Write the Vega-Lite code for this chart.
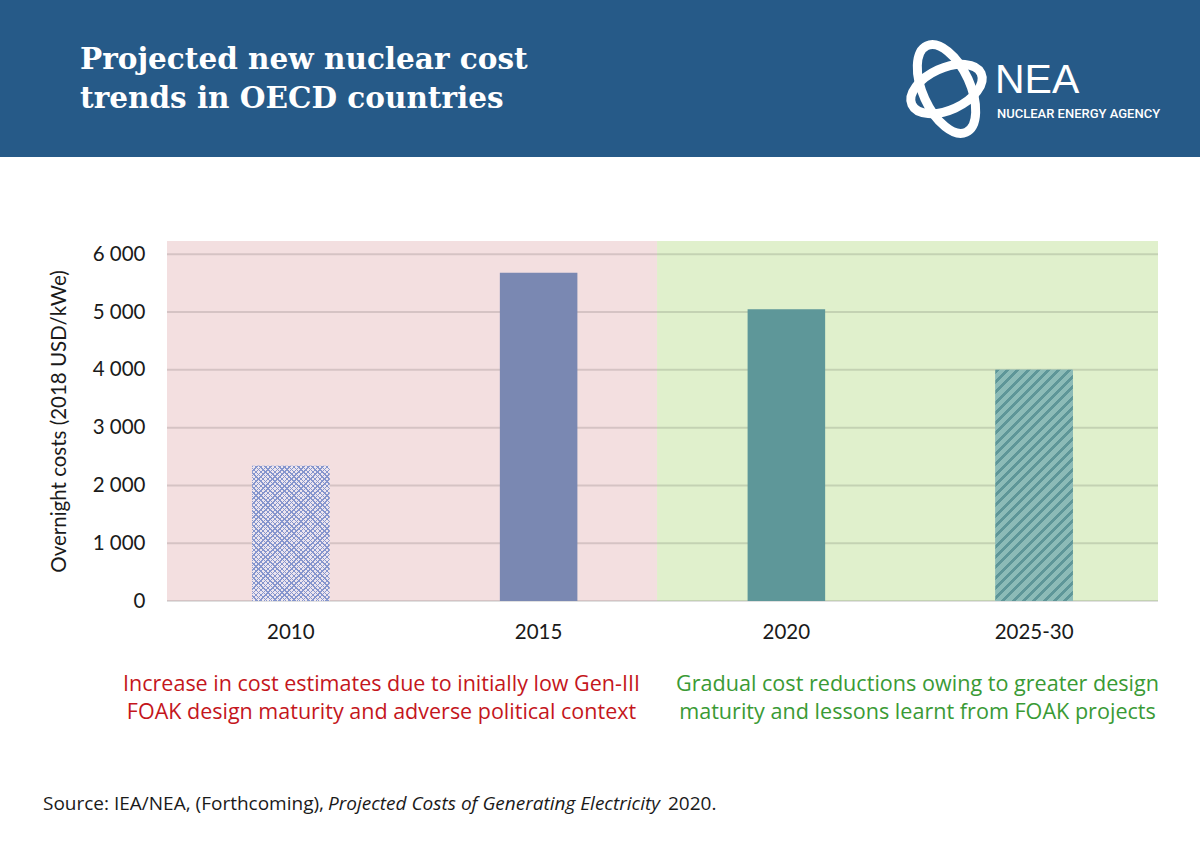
{
  "$schema": "https://vega.github.io/schema/vega-lite/v6.json",
  "width": 991,
  "height": 360,
  "autosize": "none",
  "padding": {"left": 167, "top": 241, "right": 42, "bottom": 256},
  "background": "#ffffff",
  "config": {"font": "Lato", "view": {"stroke": null}},
  "resolve": {"scale": {"x": "independent"}, "axis": {"x": "independent"}},
  "layer": [
    {
      "layer": [
        {
          "data": {"values": [{"band": "header"}]},
          "mark": {"type": "rect", "color": "#265a88"},
          "encoding": {
            "x": {"datum": -0.67407, "type": "quantitative", "scale": {"domain": [0, 4], "nice": false, "zero": false}, "axis": null},
            "x2": {"datum": 4.16953},
            "y": {"datum": 10400.6, "type": "quantitative", "scale": {"domain": [0, 6230], "nice": false}, "axis": {"title": "Overnight costs (2018 USD/kWe)", "titleFontSize": 20.5, "titleFontWeight": "normal", "titleColor": "#1a1a1a", "titlePadding": 23, "domain": false, "ticks": false, "grid": false, "values": [0, 1000, 2000, 3000, 4000, 5000, 6000], "labelExpr": "replace(format(datum.value, ','), ',', ' ')", "labelFontSize": 20.5, "labelColor": "#1a1a1a", "labelPadding": 22}},
            "y2": {"datum": 7683.7}
          }
        },
        {
          "data": {"values": [{"title": "Projected new nuclear cost\ntrends in OECD countries"}]},
          "mark": {"type": "text", "font": "DejaVu Serif", "fontWeight": "bold", "fontSize": 29.5, "color": "#ffffff", "align": "left", "baseline": "alphabetic", "lineBreak": "\n", "lineHeight": 39.5},
          "encoding": {
            "x": {"datum": -0.35116, "type": "quantitative", "scale": {"domain": [0, 4], "nice": false, "zero": false}, "axis": null},
            "y": {"datum": 9215.2, "type": "quantitative", "scale": {"domain": [0, 6230], "nice": false}},
            "text": {"field": "title", "type": "nominal"}
          }
        },
        {
          "data": {"values": [{"logo": "ring"}]},
          "mark": {"type": "point", "shape": "M -1 0 C -1 -0.2762 -0.5523 -0.5 0 -0.5 C 0.5523 -0.5 1 -0.2762 1 0 C 1 0.2762 0.5523 0.5 0 0.5 C -0.5523 0.5 -1 0.2762 -1 0 Z", "size": 9025, "angle": 65.6, "filled": false, "color": "#ffffff", "strokeWidth": 9, "opacity": 1},
          "encoding": {
            "x": {"datum": 3.14632, "type": "quantitative", "scale": {"domain": [0, 4], "nice": false, "zero": false}, "axis": null},
            "y": {"datum": 8860.5, "type": "quantitative", "scale": {"domain": [0, 6230], "nice": false}}
          }
        },
        {
          "data": {"values": [{"logo": "ring"}]},
          "mark": {"type": "point", "shape": "M -1 0 C -1 -0.3038 -0.5523 -0.55 0 -0.55 C 0.5523 -0.55 1 -0.3038 1 0 C 1 0.3038 0.5523 0.55 0 0.55 C -0.5523 0.55 -1 0.3038 -1 0 Z", "size": 5776, "angle": 335.6, "filled": false, "color": "#ffffff", "strokeWidth": 9, "opacity": 1},
          "encoding": {
            "x": {"datum": 3.14632, "type": "quantitative", "scale": {"domain": [0, 4], "nice": false, "zero": false}, "axis": null},
            "y": {"datum": 8860.5, "type": "quantitative", "scale": {"domain": [0, 6230], "nice": false}}
          }
        },
        {
          "data": {"values": [{"org": "NEA"}]},
          "mark": {"type": "text", "font": "Liberation Sans", "fontSize": 41, "color": "#ffffff", "align": "left", "baseline": "alphabetic"},
          "encoding": {
            "x": {"datum": 3.34208, "type": "quantitative", "scale": {"domain": [0, 4], "nice": false, "zero": false}, "axis": null},
            "y": {"datum": 8796.4, "type": "quantitative", "scale": {"domain": [0, 6230], "nice": false}},
            "text": {"field": "org", "type": "nominal"}
          }
        },
        {
          "data": {"values": [{"org": "NUCLEAR ENERGY AGENCY"}]},
          "mark": {"type": "text", "font": "Roboto", "fontWeight": 500, "fontSize": 13, "color": "#ffffff", "align": "left", "baseline": "alphabetic"},
          "encoding": {
            "x": {"datum": 3.35015, "type": "quantitative", "scale": {"domain": [0, 4], "nice": false, "zero": false}, "axis": null},
            "y": {"datum": 8353.4, "type": "quantitative", "scale": {"domain": [0, 6230], "nice": false}},
            "text": {"field": "org", "type": "nominal"}
          }
        },
        {
          "data": {"values": [{"phase": "Increase"}]},
          "mark": {"type": "rect", "color": "#f3dfe0"},
          "encoding": {
            "x": {"datum": 0, "type": "quantitative", "scale": {"domain": [0, 4], "nice": false, "zero": false}, "axis": null},
            "x2": {"datum": 1.978},
            "y": {"datum": 6230, "type": "quantitative", "scale": {"domain": [0, 6230], "nice": false}},
            "y2": {"datum": 0}
          }
        },
        {
          "data": {"values": [{"phase": "Reduction"}]},
          "mark": {"type": "rect", "color": "#e0f0cc"},
          "encoding": {
            "x": {"datum": 1.978, "type": "quantitative", "scale": {"domain": [0, 4], "nice": false, "zero": false}, "axis": null},
            "x2": {"datum": 4},
            "y": {"datum": 6230, "type": "quantitative", "scale": {"domain": [0, 6230], "nice": false}},
            "y2": {"datum": 0}
          }
        },
        {
          "data": {"values": [{"note": "Increase in cost estimates due to initially low Gen-III\nFOAK design maturity and adverse political context"}]},
          "mark": {"type": "text", "font": "Open Sans", "lineBreak": "\n", "fontSize": 21.5, "color": "#c4161c", "align": "center", "baseline": "alphabetic", "lineHeight": 28},
          "encoding": {
            "x": {"datum": 0.8658, "type": "quantitative", "scale": {"domain": [0, 4], "nice": false, "zero": false}, "axis": null},
            "y": {"datum": -1557, "type": "quantitative", "scale": {"domain": [0, 6230], "nice": false}},
            "text": {"field": "note", "type": "nominal"}
          }
        },
        {
          "data": {"values": [{"note": "Gradual cost reductions owing to greater design\nmaturity and lessons learnt from FOAK projects"}]},
          "mark": {"type": "text", "font": "Open Sans", "lineBreak": "\n", "fontSize": 21.6, "color": "#3a9a35", "align": "center", "baseline": "alphabetic", "lineHeight": 28},
          "encoding": {
            "x": {"datum": 3.0293, "type": "quantitative", "scale": {"domain": [0, 4], "nice": false, "zero": false}, "axis": null},
            "y": {"datum": -1557, "type": "quantitative", "scale": {"domain": [0, 6230], "nice": false}},
            "text": {"field": "note", "type": "nominal"}
          }
        },
        {
          "data": {"values": [{"s": "Source: IEA/NEA, (Forthcoming),"}]},
          "mark": {"type": "text", "font": "Open Sans", "fontSize": 19, "color": "#1a1a1a", "align": "left", "baseline": "alphabetic"},
          "encoding": {
            "x": {"datum": -0.5005, "type": "quantitative", "scale": {"domain": [0, 4], "nice": false, "zero": false}, "axis": null},
            "y": {"datum": -3617, "type": "quantitative", "scale": {"domain": [0, 6230], "nice": false}},
            "text": {"field": "s", "type": "nominal"}
          }
        },
        {
          "data": {"values": [{"s": "Projected Costs of Generating Electricity"}]},
          "mark": {"type": "text", "font": "Open Sans", "fontSize": 19, "fontStyle": "italic", "color": "#1a1a1a", "align": "left", "baseline": "alphabetic"},
          "encoding": {
            "x": {"datum": 0.6498, "type": "quantitative", "scale": {"domain": [0, 4], "nice": false, "zero": false}, "axis": null},
            "y": {"datum": -3617, "type": "quantitative", "scale": {"domain": [0, 6230], "nice": false}},
            "text": {"field": "s", "type": "nominal"}
          }
        },
        {
          "data": {"values": [{"s": "2020."}]},
          "mark": {"type": "text", "font": "Open Sans", "fontSize": 19, "color": "#1a1a1a", "align": "left", "baseline": "alphabetic"},
          "encoding": {
            "x": {"datum": 2.0222, "type": "quantitative", "scale": {"domain": [0, 4], "nice": false, "zero": false}, "axis": null},
            "y": {"datum": -3617, "type": "quantitative", "scale": {"domain": [0, 6230], "nice": false}},
            "text": {"field": "s", "type": "nominal"}
          }
        }
      ]
    },
    {
      "data": {"values": [
        {"year": "2010", "cost": 2340},
        {"year": "2015", "cost": 5680},
        {"year": "2020", "cost": 5050},
        {"year": "2025-30", "cost": 4000}
      ]},
      "layer": [
        {
          "data": {"values": [{"v": 0}, {"v": 1000}, {"v": 2000}, {"v": 3000}, {"v": 4000}, {"v": 5000}, {"v": 6000}]},
          "mark": {"type": "rule", "color": "#000000", "opacity": 0.12, "strokeWidth": 2},
          "encoding": {
            "y": {"field": "v", "type": "quantitative", "scale": {"domain": [0, 6230], "nice": false}}
          }
        },
        {
          "mark": {"type": "bar"},
          "encoding": {
            "x": {"field": "year", "type": "nominal", "scale": {"paddingInner": 0.687, "paddingOuter": 0.3435}, "axis": {"title": null, "orient": "bottom", "domain": false, "ticks": false, "grid": false, "labelAngle": 0, "labelFontSize": 20.5, "labelColor": "#1a1a1a", "labelPadding": 21}},
            "y": {"field": "cost", "type": "quantitative", "scale": {"domain": [0, 6230], "nice": false}},
            "color": {"field": "year", "type": "nominal", "scale": {"domain": ["2010", "2015", "2020", "2025-30"], "range": ["#ece5ee", "#7a88b2", "#5e9799", "#8cbbb7"]}, "legend": null}
          }
        },
        {
          "transform": [{"filter": "datum.year === '2010'"}],
          "mark": {"type": "bar", "fill": {"gradient": "linear", "x1": 0, "y1": 0, "x2": 0.6792, "y2": 1.1841, "stops": [
            {"offset": 0, "color": "#8595cd"}, {"offset": 0.0067, "color": "#8595cd"}, {"offset": 0.0067, "color": "rgba(133,149,205,0)"}, {"offset": 0.0222, "color": "rgba(133,149,205,0)"},
            {"offset": 0.0222, "color": "#8595cd"}, {"offset": 0.0289, "color": "#8595cd"}, {"offset": 0.0289, "color": "rgba(133,149,205,0)"}, {"offset": 0.0444, "color": "rgba(133,149,205,0)"},
            {"offset": 0.0444, "color": "#8595cd"}, {"offset": 0.0511, "color": "#8595cd"}, {"offset": 0.0511, "color": "rgba(133,149,205,0)"}, {"offset": 0.0667, "color": "rgba(133,149,205,0)"},
            {"offset": 0.0667, "color": "#8595cd"}, {"offset": 0.0734, "color": "#8595cd"}, {"offset": 0.0734, "color": "rgba(133,149,205,0)"}, {"offset": 0.0889, "color": "rgba(133,149,205,0)"},
            {"offset": 0.0889, "color": "#8595cd"}, {"offset": 0.0956, "color": "#8595cd"}, {"offset": 0.0956, "color": "rgba(133,149,205,0)"}, {"offset": 0.1111, "color": "rgba(133,149,205,0)"},
            {"offset": 0.1111, "color": "#8595cd"}, {"offset": 0.1178, "color": "#8595cd"}, {"offset": 0.1178, "color": "rgba(133,149,205,0)"}, {"offset": 0.1333, "color": "rgba(133,149,205,0)"},
            {"offset": 0.1333, "color": "#8595cd"}, {"offset": 0.14, "color": "#8595cd"}, {"offset": 0.14, "color": "rgba(133,149,205,0)"}, {"offset": 0.1556, "color": "rgba(133,149,205,0)"},
            {"offset": 0.1556, "color": "#8595cd"}, {"offset": 0.1623, "color": "#8595cd"}, {"offset": 0.1623, "color": "rgba(133,149,205,0)"}, {"offset": 0.1778, "color": "rgba(133,149,205,0)"},
            {"offset": 0.1778, "color": "#8595cd"}, {"offset": 0.1845, "color": "#8595cd"}, {"offset": 0.1845, "color": "rgba(133,149,205,0)"}, {"offset": 0.2, "color": "rgba(133,149,205,0)"},
            {"offset": 0.2, "color": "#8595cd"}, {"offset": 0.2067, "color": "#8595cd"}, {"offset": 0.2067, "color": "rgba(133,149,205,0)"}, {"offset": 0.2222, "color": "rgba(133,149,205,0)"},
            {"offset": 0.2222, "color": "#8595cd"}, {"offset": 0.2289, "color": "#8595cd"}, {"offset": 0.2289, "color": "rgba(133,149,205,0)"}, {"offset": 0.2444, "color": "rgba(133,149,205,0)"},
            {"offset": 0.2444, "color": "#8595cd"}, {"offset": 0.2511, "color": "#8595cd"}, {"offset": 0.2511, "color": "rgba(133,149,205,0)"}, {"offset": 0.2667, "color": "rgba(133,149,205,0)"},
            {"offset": 0.2667, "color": "#8595cd"}, {"offset": 0.2734, "color": "#8595cd"}, {"offset": 0.2734, "color": "rgba(133,149,205,0)"}, {"offset": 0.2889, "color": "rgba(133,149,205,0)"},
            {"offset": 0.2889, "color": "#8595cd"}, {"offset": 0.2956, "color": "#8595cd"}, {"offset": 0.2956, "color": "rgba(133,149,205,0)"}, {"offset": 0.3111, "color": "rgba(133,149,205,0)"},
            {"offset": 0.3111, "color": "#8595cd"}, {"offset": 0.3178, "color": "#8595cd"}, {"offset": 0.3178, "color": "rgba(133,149,205,0)"}, {"offset": 0.3333, "color": "rgba(133,149,205,0)"},
            {"offset": 0.3333, "color": "#8595cd"}, {"offset": 0.34, "color": "#8595cd"}, {"offset": 0.34, "color": "rgba(133,149,205,0)"}, {"offset": 0.3556, "color": "rgba(133,149,205,0)"},
            {"offset": 0.3556, "color": "#8595cd"}, {"offset": 0.3623, "color": "#8595cd"}, {"offset": 0.3623, "color": "rgba(133,149,205,0)"}, {"offset": 0.3778, "color": "rgba(133,149,205,0)"},
            {"offset": 0.3778, "color": "#8595cd"}, {"offset": 0.3845, "color": "#8595cd"}, {"offset": 0.3845, "color": "rgba(133,149,205,0)"}, {"offset": 0.4, "color": "rgba(133,149,205,0)"},
            {"offset": 0.4, "color": "#8595cd"}, {"offset": 0.4067, "color": "#8595cd"}, {"offset": 0.4067, "color": "rgba(133,149,205,0)"}, {"offset": 0.4222, "color": "rgba(133,149,205,0)"},
            {"offset": 0.4222, "color": "#8595cd"}, {"offset": 0.4289, "color": "#8595cd"}, {"offset": 0.4289, "color": "rgba(133,149,205,0)"}, {"offset": 0.4444, "color": "rgba(133,149,205,0)"},
            {"offset": 0.4444, "color": "#8595cd"}, {"offset": 0.4511, "color": "#8595cd"}, {"offset": 0.4511, "color": "rgba(133,149,205,0)"}, {"offset": 0.4667, "color": "rgba(133,149,205,0)"},
            {"offset": 0.4667, "color": "#8595cd"}, {"offset": 0.4734, "color": "#8595cd"}, {"offset": 0.4734, "color": "rgba(133,149,205,0)"}, {"offset": 0.4889, "color": "rgba(133,149,205,0)"},
            {"offset": 0.4889, "color": "#8595cd"}, {"offset": 0.4956, "color": "#8595cd"}, {"offset": 0.4956, "color": "rgba(133,149,205,0)"}, {"offset": 0.5111, "color": "rgba(133,149,205,0)"},
            {"offset": 0.5111, "color": "#8595cd"}, {"offset": 0.5178, "color": "#8595cd"}, {"offset": 0.5178, "color": "rgba(133,149,205,0)"}, {"offset": 0.5333, "color": "rgba(133,149,205,0)"},
            {"offset": 0.5333, "color": "#8595cd"}, {"offset": 0.54, "color": "#8595cd"}, {"offset": 0.54, "color": "rgba(133,149,205,0)"}, {"offset": 0.5556, "color": "rgba(133,149,205,0)"},
            {"offset": 0.5556, "color": "#8595cd"}, {"offset": 0.5623, "color": "#8595cd"}, {"offset": 0.5623, "color": "rgba(133,149,205,0)"}, {"offset": 0.5778, "color": "rgba(133,149,205,0)"},
            {"offset": 0.5778, "color": "#8595cd"}, {"offset": 0.5845, "color": "#8595cd"}, {"offset": 0.5845, "color": "rgba(133,149,205,0)"}, {"offset": 0.6, "color": "rgba(133,149,205,0)"},
            {"offset": 0.6, "color": "#8595cd"}, {"offset": 0.6067, "color": "#8595cd"}, {"offset": 0.6067, "color": "rgba(133,149,205,0)"}, {"offset": 0.6222, "color": "rgba(133,149,205,0)"},
            {"offset": 0.6222, "color": "#8595cd"}, {"offset": 0.6289, "color": "#8595cd"}, {"offset": 0.6289, "color": "rgba(133,149,205,0)"}, {"offset": 0.6444, "color": "rgba(133,149,205,0)"},
            {"offset": 0.6444, "color": "#8595cd"}, {"offset": 0.6511, "color": "#8595cd"}, {"offset": 0.6511, "color": "rgba(133,149,205,0)"}, {"offset": 0.6667, "color": "rgba(133,149,205,0)"},
            {"offset": 0.6667, "color": "#8595cd"}, {"offset": 0.6734, "color": "#8595cd"}, {"offset": 0.6734, "color": "rgba(133,149,205,0)"}, {"offset": 0.6889, "color": "rgba(133,149,205,0)"},
            {"offset": 0.6889, "color": "#8595cd"}, {"offset": 0.6956, "color": "#8595cd"}, {"offset": 0.6956, "color": "rgba(133,149,205,0)"}, {"offset": 0.7111, "color": "rgba(133,149,205,0)"},
            {"offset": 0.7111, "color": "#8595cd"}, {"offset": 0.7178, "color": "#8595cd"}, {"offset": 0.7178, "color": "rgba(133,149,205,0)"}, {"offset": 0.7333, "color": "rgba(133,149,205,0)"},
            {"offset": 0.7333, "color": "#8595cd"}, {"offset": 0.74, "color": "#8595cd"}, {"offset": 0.74, "color": "rgba(133,149,205,0)"}, {"offset": 0.7556, "color": "rgba(133,149,205,0)"},
            {"offset": 0.7556, "color": "#8595cd"}, {"offset": 0.7623, "color": "#8595cd"}, {"offset": 0.7623, "color": "rgba(133,149,205,0)"}, {"offset": 0.7778, "color": "rgba(133,149,205,0)"},
            {"offset": 0.7778, "color": "#8595cd"}, {"offset": 0.7845, "color": "#8595cd"}, {"offset": 0.7845, "color": "rgba(133,149,205,0)"}, {"offset": 0.8, "color": "rgba(133,149,205,0)"},
            {"offset": 0.8, "color": "#8595cd"}, {"offset": 0.8067, "color": "#8595cd"}, {"offset": 0.8067, "color": "rgba(133,149,205,0)"}, {"offset": 0.8222, "color": "rgba(133,149,205,0)"},
            {"offset": 0.8222, "color": "#8595cd"}, {"offset": 0.8289, "color": "#8595cd"}, {"offset": 0.8289, "color": "rgba(133,149,205,0)"}, {"offset": 0.8444, "color": "rgba(133,149,205,0)"},
            {"offset": 0.8444, "color": "#8595cd"}, {"offset": 0.8511, "color": "#8595cd"}, {"offset": 0.8511, "color": "rgba(133,149,205,0)"}, {"offset": 0.8667, "color": "rgba(133,149,205,0)"},
            {"offset": 0.8667, "color": "#8595cd"}, {"offset": 0.8734, "color": "#8595cd"}, {"offset": 0.8734, "color": "rgba(133,149,205,0)"}, {"offset": 0.8889, "color": "rgba(133,149,205,0)"},
            {"offset": 0.8889, "color": "#8595cd"}, {"offset": 0.8956, "color": "#8595cd"}, {"offset": 0.8956, "color": "rgba(133,149,205,0)"}, {"offset": 0.9111, "color": "rgba(133,149,205,0)"},
            {"offset": 0.9111, "color": "#8595cd"}, {"offset": 0.9178, "color": "#8595cd"}, {"offset": 0.9178, "color": "rgba(133,149,205,0)"}, {"offset": 0.9333, "color": "rgba(133,149,205,0)"},
            {"offset": 0.9333, "color": "#8595cd"}, {"offset": 0.94, "color": "#8595cd"}, {"offset": 0.94, "color": "rgba(133,149,205,0)"}, {"offset": 0.9556, "color": "rgba(133,149,205,0)"},
            {"offset": 0.9556, "color": "#8595cd"}, {"offset": 0.9623, "color": "#8595cd"}, {"offset": 0.9623, "color": "rgba(133,149,205,0)"}, {"offset": 0.9778, "color": "rgba(133,149,205,0)"},
            {"offset": 0.9778, "color": "#8595cd"}, {"offset": 0.9845, "color": "#8595cd"}, {"offset": 0.9845, "color": "rgba(133,149,205,0)"}, {"offset": 1, "color": "rgba(133,149,205,0)"}
          ]}},
          "encoding": {
            "x": {"field": "year", "type": "nominal", "scale": {"paddingInner": 0.687, "paddingOuter": 0.3435}},
            "y": {"field": "cost", "type": "quantitative", "scale": {"domain": [0, 6230], "nice": false}}
          }
        },
        {
          "transform": [{"filter": "datum.year === '2010'"}],
          "mark": {"type": "bar", "fill": {"gradient": "linear", "x1": 0, "y1": 1, "x2": 0.6792, "y2": -0.1841, "stops": [
            {"offset": 0, "color": "#8595cd"}, {"offset": 0.0067, "color": "#8595cd"}, {"offset": 0.0067, "color": "rgba(133,149,205,0)"}, {"offset": 0.0222, "color": "rgba(133,149,205,0)"},
            {"offset": 0.0222, "color": "#8595cd"}, {"offset": 0.0289, "color": "#8595cd"}, {"offset": 0.0289, "color": "rgba(133,149,205,0)"}, {"offset": 0.0444, "color": "rgba(133,149,205,0)"},
            {"offset": 0.0444, "color": "#8595cd"}, {"offset": 0.0511, "color": "#8595cd"}, {"offset": 0.0511, "color": "rgba(133,149,205,0)"}, {"offset": 0.0667, "color": "rgba(133,149,205,0)"},
            {"offset": 0.0667, "color": "#8595cd"}, {"offset": 0.0734, "color": "#8595cd"}, {"offset": 0.0734, "color": "rgba(133,149,205,0)"}, {"offset": 0.0889, "color": "rgba(133,149,205,0)"},
            {"offset": 0.0889, "color": "#8595cd"}, {"offset": 0.0956, "color": "#8595cd"}, {"offset": 0.0956, "color": "rgba(133,149,205,0)"}, {"offset": 0.1111, "color": "rgba(133,149,205,0)"},
            {"offset": 0.1111, "color": "#8595cd"}, {"offset": 0.1178, "color": "#8595cd"}, {"offset": 0.1178, "color": "rgba(133,149,205,0)"}, {"offset": 0.1333, "color": "rgba(133,149,205,0)"},
            {"offset": 0.1333, "color": "#8595cd"}, {"offset": 0.14, "color": "#8595cd"}, {"offset": 0.14, "color": "rgba(133,149,205,0)"}, {"offset": 0.1556, "color": "rgba(133,149,205,0)"},
            {"offset": 0.1556, "color": "#8595cd"}, {"offset": 0.1623, "color": "#8595cd"}, {"offset": 0.1623, "color": "rgba(133,149,205,0)"}, {"offset": 0.1778, "color": "rgba(133,149,205,0)"},
            {"offset": 0.1778, "color": "#8595cd"}, {"offset": 0.1845, "color": "#8595cd"}, {"offset": 0.1845, "color": "rgba(133,149,205,0)"}, {"offset": 0.2, "color": "rgba(133,149,205,0)"},
            {"offset": 0.2, "color": "#8595cd"}, {"offset": 0.2067, "color": "#8595cd"}, {"offset": 0.2067, "color": "rgba(133,149,205,0)"}, {"offset": 0.2222, "color": "rgba(133,149,205,0)"},
            {"offset": 0.2222, "color": "#8595cd"}, {"offset": 0.2289, "color": "#8595cd"}, {"offset": 0.2289, "color": "rgba(133,149,205,0)"}, {"offset": 0.2444, "color": "rgba(133,149,205,0)"},
            {"offset": 0.2444, "color": "#8595cd"}, {"offset": 0.2511, "color": "#8595cd"}, {"offset": 0.2511, "color": "rgba(133,149,205,0)"}, {"offset": 0.2667, "color": "rgba(133,149,205,0)"},
            {"offset": 0.2667, "color": "#8595cd"}, {"offset": 0.2734, "color": "#8595cd"}, {"offset": 0.2734, "color": "rgba(133,149,205,0)"}, {"offset": 0.2889, "color": "rgba(133,149,205,0)"},
            {"offset": 0.2889, "color": "#8595cd"}, {"offset": 0.2956, "color": "#8595cd"}, {"offset": 0.2956, "color": "rgba(133,149,205,0)"}, {"offset": 0.3111, "color": "rgba(133,149,205,0)"},
            {"offset": 0.3111, "color": "#8595cd"}, {"offset": 0.3178, "color": "#8595cd"}, {"offset": 0.3178, "color": "rgba(133,149,205,0)"}, {"offset": 0.3333, "color": "rgba(133,149,205,0)"},
            {"offset": 0.3333, "color": "#8595cd"}, {"offset": 0.34, "color": "#8595cd"}, {"offset": 0.34, "color": "rgba(133,149,205,0)"}, {"offset": 0.3556, "color": "rgba(133,149,205,0)"},
            {"offset": 0.3556, "color": "#8595cd"}, {"offset": 0.3623, "color": "#8595cd"}, {"offset": 0.3623, "color": "rgba(133,149,205,0)"}, {"offset": 0.3778, "color": "rgba(133,149,205,0)"},
            {"offset": 0.3778, "color": "#8595cd"}, {"offset": 0.3845, "color": "#8595cd"}, {"offset": 0.3845, "color": "rgba(133,149,205,0)"}, {"offset": 0.4, "color": "rgba(133,149,205,0)"},
            {"offset": 0.4, "color": "#8595cd"}, {"offset": 0.4067, "color": "#8595cd"}, {"offset": 0.4067, "color": "rgba(133,149,205,0)"}, {"offset": 0.4222, "color": "rgba(133,149,205,0)"},
            {"offset": 0.4222, "color": "#8595cd"}, {"offset": 0.4289, "color": "#8595cd"}, {"offset": 0.4289, "color": "rgba(133,149,205,0)"}, {"offset": 0.4444, "color": "rgba(133,149,205,0)"},
            {"offset": 0.4444, "color": "#8595cd"}, {"offset": 0.4511, "color": "#8595cd"}, {"offset": 0.4511, "color": "rgba(133,149,205,0)"}, {"offset": 0.4667, "color": "rgba(133,149,205,0)"},
            {"offset": 0.4667, "color": "#8595cd"}, {"offset": 0.4734, "color": "#8595cd"}, {"offset": 0.4734, "color": "rgba(133,149,205,0)"}, {"offset": 0.4889, "color": "rgba(133,149,205,0)"},
            {"offset": 0.4889, "color": "#8595cd"}, {"offset": 0.4956, "color": "#8595cd"}, {"offset": 0.4956, "color": "rgba(133,149,205,0)"}, {"offset": 0.5111, "color": "rgba(133,149,205,0)"},
            {"offset": 0.5111, "color": "#8595cd"}, {"offset": 0.5178, "color": "#8595cd"}, {"offset": 0.5178, "color": "rgba(133,149,205,0)"}, {"offset": 0.5333, "color": "rgba(133,149,205,0)"},
            {"offset": 0.5333, "color": "#8595cd"}, {"offset": 0.54, "color": "#8595cd"}, {"offset": 0.54, "color": "rgba(133,149,205,0)"}, {"offset": 0.5556, "color": "rgba(133,149,205,0)"},
            {"offset": 0.5556, "color": "#8595cd"}, {"offset": 0.5623, "color": "#8595cd"}, {"offset": 0.5623, "color": "rgba(133,149,205,0)"}, {"offset": 0.5778, "color": "rgba(133,149,205,0)"},
            {"offset": 0.5778, "color": "#8595cd"}, {"offset": 0.5845, "color": "#8595cd"}, {"offset": 0.5845, "color": "rgba(133,149,205,0)"}, {"offset": 0.6, "color": "rgba(133,149,205,0)"},
            {"offset": 0.6, "color": "#8595cd"}, {"offset": 0.6067, "color": "#8595cd"}, {"offset": 0.6067, "color": "rgba(133,149,205,0)"}, {"offset": 0.6222, "color": "rgba(133,149,205,0)"},
            {"offset": 0.6222, "color": "#8595cd"}, {"offset": 0.6289, "color": "#8595cd"}, {"offset": 0.6289, "color": "rgba(133,149,205,0)"}, {"offset": 0.6444, "color": "rgba(133,149,205,0)"},
            {"offset": 0.6444, "color": "#8595cd"}, {"offset": 0.6511, "color": "#8595cd"}, {"offset": 0.6511, "color": "rgba(133,149,205,0)"}, {"offset": 0.6667, "color": "rgba(133,149,205,0)"},
            {"offset": 0.6667, "color": "#8595cd"}, {"offset": 0.6734, "color": "#8595cd"}, {"offset": 0.6734, "color": "rgba(133,149,205,0)"}, {"offset": 0.6889, "color": "rgba(133,149,205,0)"},
            {"offset": 0.6889, "color": "#8595cd"}, {"offset": 0.6956, "color": "#8595cd"}, {"offset": 0.6956, "color": "rgba(133,149,205,0)"}, {"offset": 0.7111, "color": "rgba(133,149,205,0)"},
            {"offset": 0.7111, "color": "#8595cd"}, {"offset": 0.7178, "color": "#8595cd"}, {"offset": 0.7178, "color": "rgba(133,149,205,0)"}, {"offset": 0.7333, "color": "rgba(133,149,205,0)"},
            {"offset": 0.7333, "color": "#8595cd"}, {"offset": 0.74, "color": "#8595cd"}, {"offset": 0.74, "color": "rgba(133,149,205,0)"}, {"offset": 0.7556, "color": "rgba(133,149,205,0)"},
            {"offset": 0.7556, "color": "#8595cd"}, {"offset": 0.7623, "color": "#8595cd"}, {"offset": 0.7623, "color": "rgba(133,149,205,0)"}, {"offset": 0.7778, "color": "rgba(133,149,205,0)"},
            {"offset": 0.7778, "color": "#8595cd"}, {"offset": 0.7845, "color": "#8595cd"}, {"offset": 0.7845, "color": "rgba(133,149,205,0)"}, {"offset": 0.8, "color": "rgba(133,149,205,0)"},
            {"offset": 0.8, "color": "#8595cd"}, {"offset": 0.8067, "color": "#8595cd"}, {"offset": 0.8067, "color": "rgba(133,149,205,0)"}, {"offset": 0.8222, "color": "rgba(133,149,205,0)"},
            {"offset": 0.8222, "color": "#8595cd"}, {"offset": 0.8289, "color": "#8595cd"}, {"offset": 0.8289, "color": "rgba(133,149,205,0)"}, {"offset": 0.8444, "color": "rgba(133,149,205,0)"},
            {"offset": 0.8444, "color": "#8595cd"}, {"offset": 0.8511, "color": "#8595cd"}, {"offset": 0.8511, "color": "rgba(133,149,205,0)"}, {"offset": 0.8667, "color": "rgba(133,149,205,0)"},
            {"offset": 0.8667, "color": "#8595cd"}, {"offset": 0.8734, "color": "#8595cd"}, {"offset": 0.8734, "color": "rgba(133,149,205,0)"}, {"offset": 0.8889, "color": "rgba(133,149,205,0)"},
            {"offset": 0.8889, "color": "#8595cd"}, {"offset": 0.8956, "color": "#8595cd"}, {"offset": 0.8956, "color": "rgba(133,149,205,0)"}, {"offset": 0.9111, "color": "rgba(133,149,205,0)"},
            {"offset": 0.9111, "color": "#8595cd"}, {"offset": 0.9178, "color": "#8595cd"}, {"offset": 0.9178, "color": "rgba(133,149,205,0)"}, {"offset": 0.9333, "color": "rgba(133,149,205,0)"},
            {"offset": 0.9333, "color": "#8595cd"}, {"offset": 0.94, "color": "#8595cd"}, {"offset": 0.94, "color": "rgba(133,149,205,0)"}, {"offset": 0.9556, "color": "rgba(133,149,205,0)"},
            {"offset": 0.9556, "color": "#8595cd"}, {"offset": 0.9623, "color": "#8595cd"}, {"offset": 0.9623, "color": "rgba(133,149,205,0)"}, {"offset": 0.9778, "color": "rgba(133,149,205,0)"},
            {"offset": 0.9778, "color": "#8595cd"}, {"offset": 0.9845, "color": "#8595cd"}, {"offset": 0.9845, "color": "rgba(133,149,205,0)"}, {"offset": 1, "color": "rgba(133,149,205,0)"}
          ]}},
          "encoding": {
            "x": {"field": "year", "type": "nominal", "scale": {"paddingInner": 0.687, "paddingOuter": 0.3435}},
            "y": {"field": "cost", "type": "quantitative", "scale": {"domain": [0, 6230], "nice": false}}
          }
        },
        {
          "transform": [{"filter": "datum.year === '2025-30'"}],
          "mark": {"type": "bar", "fill": {"gradient": "linear", "x1": 0, "y1": 0, "x2": 0.4027, "y2": 1.2004, "stops": [
            {"offset": 0, "color": "#5e9698"}, {"offset": 0.013, "color": "#5e9698"}, {"offset": 0.013, "color": "#8cbbb7"}, {"offset": 0.0333, "color": "#8cbbb7"},
            {"offset": 0.0333, "color": "#5e9698"}, {"offset": 0.0463, "color": "#5e9698"}, {"offset": 0.0463, "color": "#8cbbb7"}, {"offset": 0.0667, "color": "#8cbbb7"},
            {"offset": 0.0667, "color": "#5e9698"}, {"offset": 0.0797, "color": "#5e9698"}, {"offset": 0.0797, "color": "#8cbbb7"}, {"offset": 0.1, "color": "#8cbbb7"},
            {"offset": 0.1, "color": "#5e9698"}, {"offset": 0.113, "color": "#5e9698"}, {"offset": 0.113, "color": "#8cbbb7"}, {"offset": 0.1333, "color": "#8cbbb7"},
            {"offset": 0.1333, "color": "#5e9698"}, {"offset": 0.1463, "color": "#5e9698"}, {"offset": 0.1463, "color": "#8cbbb7"}, {"offset": 0.1667, "color": "#8cbbb7"},
            {"offset": 0.1667, "color": "#5e9698"}, {"offset": 0.1797, "color": "#5e9698"}, {"offset": 0.1797, "color": "#8cbbb7"}, {"offset": 0.2, "color": "#8cbbb7"},
            {"offset": 0.2, "color": "#5e9698"}, {"offset": 0.213, "color": "#5e9698"}, {"offset": 0.213, "color": "#8cbbb7"}, {"offset": 0.2333, "color": "#8cbbb7"},
            {"offset": 0.2333, "color": "#5e9698"}, {"offset": 0.2463, "color": "#5e9698"}, {"offset": 0.2463, "color": "#8cbbb7"}, {"offset": 0.2667, "color": "#8cbbb7"},
            {"offset": 0.2667, "color": "#5e9698"}, {"offset": 0.2797, "color": "#5e9698"}, {"offset": 0.2797, "color": "#8cbbb7"}, {"offset": 0.3, "color": "#8cbbb7"},
            {"offset": 0.3, "color": "#5e9698"}, {"offset": 0.313, "color": "#5e9698"}, {"offset": 0.313, "color": "#8cbbb7"}, {"offset": 0.3333, "color": "#8cbbb7"},
            {"offset": 0.3333, "color": "#5e9698"}, {"offset": 0.3463, "color": "#5e9698"}, {"offset": 0.3463, "color": "#8cbbb7"}, {"offset": 0.3667, "color": "#8cbbb7"},
            {"offset": 0.3667, "color": "#5e9698"}, {"offset": 0.3797, "color": "#5e9698"}, {"offset": 0.3797, "color": "#8cbbb7"}, {"offset": 0.4, "color": "#8cbbb7"},
            {"offset": 0.4, "color": "#5e9698"}, {"offset": 0.413, "color": "#5e9698"}, {"offset": 0.413, "color": "#8cbbb7"}, {"offset": 0.4333, "color": "#8cbbb7"},
            {"offset": 0.4333, "color": "#5e9698"}, {"offset": 0.4463, "color": "#5e9698"}, {"offset": 0.4463, "color": "#8cbbb7"}, {"offset": 0.4667, "color": "#8cbbb7"},
            {"offset": 0.4667, "color": "#5e9698"}, {"offset": 0.4797, "color": "#5e9698"}, {"offset": 0.4797, "color": "#8cbbb7"}, {"offset": 0.5, "color": "#8cbbb7"},
            {"offset": 0.5, "color": "#5e9698"}, {"offset": 0.513, "color": "#5e9698"}, {"offset": 0.513, "color": "#8cbbb7"}, {"offset": 0.5333, "color": "#8cbbb7"},
            {"offset": 0.5333, "color": "#5e9698"}, {"offset": 0.5463, "color": "#5e9698"}, {"offset": 0.5463, "color": "#8cbbb7"}, {"offset": 0.5667, "color": "#8cbbb7"},
            {"offset": 0.5667, "color": "#5e9698"}, {"offset": 0.5797, "color": "#5e9698"}, {"offset": 0.5797, "color": "#8cbbb7"}, {"offset": 0.6, "color": "#8cbbb7"},
            {"offset": 0.6, "color": "#5e9698"}, {"offset": 0.613, "color": "#5e9698"}, {"offset": 0.613, "color": "#8cbbb7"}, {"offset": 0.6333, "color": "#8cbbb7"},
            {"offset": 0.6333, "color": "#5e9698"}, {"offset": 0.6463, "color": "#5e9698"}, {"offset": 0.6463, "color": "#8cbbb7"}, {"offset": 0.6667, "color": "#8cbbb7"},
            {"offset": 0.6667, "color": "#5e9698"}, {"offset": 0.6797, "color": "#5e9698"}, {"offset": 0.6797, "color": "#8cbbb7"}, {"offset": 0.7, "color": "#8cbbb7"},
            {"offset": 0.7, "color": "#5e9698"}, {"offset": 0.713, "color": "#5e9698"}, {"offset": 0.713, "color": "#8cbbb7"}, {"offset": 0.7333, "color": "#8cbbb7"},
            {"offset": 0.7333, "color": "#5e9698"}, {"offset": 0.7463, "color": "#5e9698"}, {"offset": 0.7463, "color": "#8cbbb7"}, {"offset": 0.7667, "color": "#8cbbb7"},
            {"offset": 0.7667, "color": "#5e9698"}, {"offset": 0.7797, "color": "#5e9698"}, {"offset": 0.7797, "color": "#8cbbb7"}, {"offset": 0.8, "color": "#8cbbb7"},
            {"offset": 0.8, "color": "#5e9698"}, {"offset": 0.813, "color": "#5e9698"}, {"offset": 0.813, "color": "#8cbbb7"}, {"offset": 0.8333, "color": "#8cbbb7"},
            {"offset": 0.8333, "color": "#5e9698"}, {"offset": 0.8463, "color": "#5e9698"}, {"offset": 0.8463, "color": "#8cbbb7"}, {"offset": 0.8667, "color": "#8cbbb7"},
            {"offset": 0.8667, "color": "#5e9698"}, {"offset": 0.8797, "color": "#5e9698"}, {"offset": 0.8797, "color": "#8cbbb7"}, {"offset": 0.9, "color": "#8cbbb7"},
            {"offset": 0.9, "color": "#5e9698"}, {"offset": 0.913, "color": "#5e9698"}, {"offset": 0.913, "color": "#8cbbb7"}, {"offset": 0.9333, "color": "#8cbbb7"},
            {"offset": 0.9333, "color": "#5e9698"}, {"offset": 0.9463, "color": "#5e9698"}, {"offset": 0.9463, "color": "#8cbbb7"}, {"offset": 0.9667, "color": "#8cbbb7"},
            {"offset": 0.9667, "color": "#5e9698"}, {"offset": 0.9797, "color": "#5e9698"}, {"offset": 0.9797, "color": "#8cbbb7"}, {"offset": 1, "color": "#8cbbb7"}
          ]}},
          "encoding": {
            "x": {"field": "year", "type": "nominal", "scale": {"paddingInner": 0.687, "paddingOuter": 0.3435}},
            "y": {"field": "cost", "type": "quantitative", "scale": {"domain": [0, 6230], "nice": false}}
          }
        }
      ]
    }
  ]
}
